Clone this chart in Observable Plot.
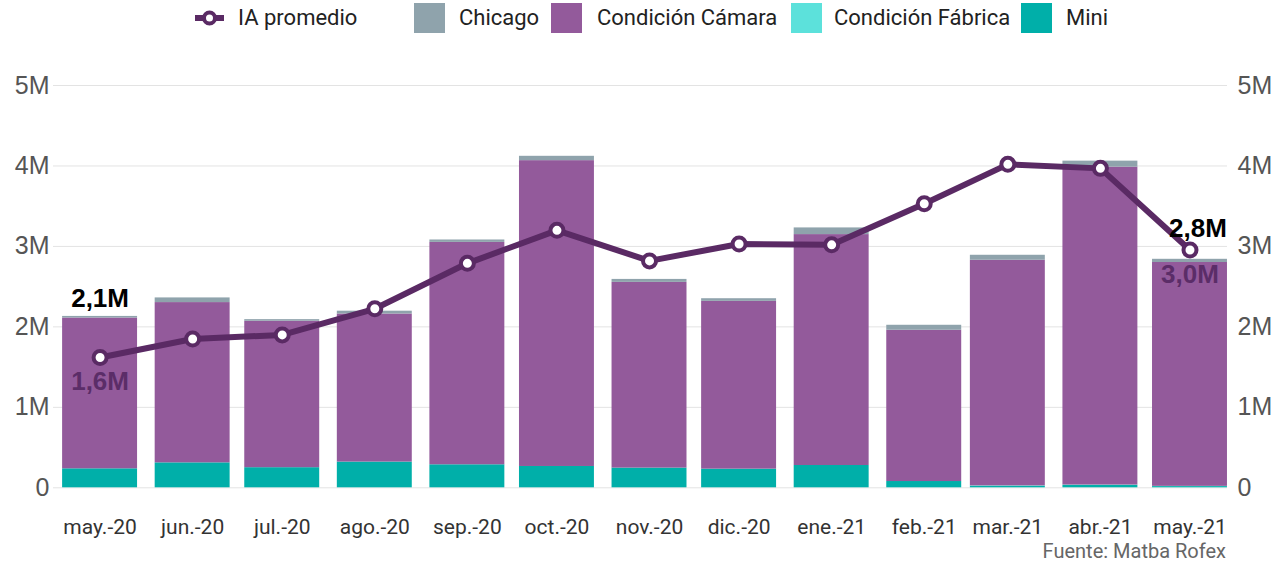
<!DOCTYPE html>
<html><head><meta charset="utf-8">
<script src="https://cdn.jsdelivr.net/npm/d3@7"></script>
<script src="https://cdn.jsdelivr.net/npm/@observablehq/plot@0.6"></script>
<style>
body{margin:0;background:#fff;}
#wrap{position:relative;width:1280px;height:563px;overflow:hidden;font-family:Roboto,sans-serif;}
#legend{position:relative;height:40px;}
.lt{position:absolute;top:0;height:36px;line-height:36px;font-size:22px;color:#222;white-space:nowrap;}
.sw{position:absolute;top:3px;width:31px;height:30px;}
#chart{position:absolute;top:40px;left:0;}
#foot{position:absolute;right:54px;top:539px;font-size:20px;color:#666;font-family:Roboto,sans-serif;}
</style></head>
<body><div id="wrap"><div id="legend"></div><div id="chart"></div><div id="foot">Fuente: Matba Rofex</div></div>
<script>
// ---- data (values in millions) ----
const months = ["may.-20","jun.-20","jul.-20","ago.-20","sep.-20","oct.-20","nov.-20","dic.-20","ene.-21","feb.-21","mar.-21","abr.-21","may.-21"];
const dates = ["2020-05-01","2020-06-01","2020-07-01","2020-08-01","2020-09-01","2020-10-01","2020-11-01","2020-12-01","2021-01-01","2021-02-01","2021-03-01","2021-04-01","2021-05-01"];
const mini    = [0.236,0.31,0.25,0.32,0.286,0.265,0.245,0.232,0.277,0.078,0.02,0.03,0.015];
const fabrica = [0,0,0,0,0,0,0,0,0,0,0.004,0.004,0.003];
const camara  = [1.874,1.992,1.82,1.84,2.764,3.801,2.308,2.085,2.87,1.88,2.804,3.951,2.782];
const chicago = [0.02,0.058,0.02,0.035,0.03,0.054,0.037,0.033,0.083,0.062,0.062,0.075,0.04];
const iaPromedio = [1.62,1.85,1.90,2.225,2.79,3.20,2.82,3.03,3.02,3.53,4.02,3.97,2.955];
const seriesNames = ["Mini","Condición Fábrica","Condición Cámara","Chicago"];
const seriesColors = ["#00afa9","#5ce1db","#935a9b","#8fa3ac"];
const legendOrder = ["Chicago","Condición Cámara","Condición Fábrica","Mini"];
const lineName = "IA promedio";
const lineColor = "#5a2a64";
const yTicks = [0,1,2,3,4,5];

// ---- tables ----
const seriesValues = [mini, fabrica, camara, chicago];
const halfBar = 12.55 * 864e5;
const rows = [];
const points = dates.map((s, i) => {
  const date = new Date(s);
  let acc = 0;
  seriesValues.forEach((arr, k) => {
    rows.push({date, series: seriesNames[k], x1: new Date(+date - halfBar), x2: new Date(+date + halfBar), y1: acc, y2: acc + arr[i]});
    acc += arr[i];
  });
  return {date, total: acc, ia: iaPromedio[i], label: months[i]};
});
const fmt = v => v.toFixed(1).replace(".", ",") + "M";
const labelOf = new Map(points.map(p => [+p.date, p.label]));
const first = points[0], last = points[points.length - 1];

// ---- legend ----
const legend = document.getElementById("legend");
const legendPos = {icon: 195, text: 238, sw: [414, 551, 791, 1021], tx: [459, 597, 834, 1066]};
legend.innerHTML =
  `<svg style="position:absolute;left:${legendPos.icon}px;top:9px" width="29" height="18"><line x1="0" x2="29" y1="9" y2="9" stroke="${lineColor}" stroke-width="6"/><circle cx="14.5" cy="9" r="5.5" fill="#fff" stroke="${lineColor}" stroke-width="4"/></svg>` +
  `<div class="lt" style="left:${legendPos.text}px">${lineName}</div>` +
  legendOrder.map((n, i) => `<div class="sw" style="left:${legendPos.sw[i]}px;background:${seriesColors[seriesNames.indexOf(n)]}"></div><div class="lt" style="left:${legendPos.tx[i]}px">${n}</div>`).join("");

// ---- chart ----
const x0 = new Date(+first.date - 15.6 * 864e5), x1 = new Date(+last.date + 12.56 * 864e5);
const tickFont = "'Liberation Sans', Arial, sans-serif";
const chart = Plot.plot({
  width: 1280, height: 500,
  marginLeft: 53, marginRight: 53, marginTop: 45, marginBottom: 52.7,
  style: {fontFamily: "Roboto, sans-serif", color: "#555", background: "transparent"},
  x: {type: "utc", domain: [x0, x1], label: null},
  y: {domain: [0, 5], label: null},
  color: {domain: seriesNames, range: seriesColors},
  marks: [
    Plot.gridY(yTicks, {stroke: "#e3e3e3", strokeOpacity: 1, strokeWidth: 1}),
    Plot.rectY(rows, {x1: "x1", x2: "x2", y1: "y1", y2: "y2", fill: "series"}),
    Plot.line(points, {x: "date", y: "ia", stroke: lineColor, strokeWidth: 6}),
    Plot.dot(points, {x: "date", y: "ia", r: 6.5, fill: "#fff", stroke: lineColor, strokeWidth: 4}),
    Plot.text([first], {x: "date", y: "total", text: d => fmt(d.total), lineAnchor: "bottom", dy: -9, fontSize: 26, fontWeight: "bold", fill: "#000", fontFamily: tickFont}),
    Plot.text([last], {x: "date", y: "total", text: d => fmt(d.total), lineAnchor: "bottom", dy: -22, dx: 8, fontSize: 26, fontWeight: "bold", fill: "#000", fontFamily: tickFont}),
    Plot.text([first, last], {x: "date", y: "ia", text: d => fmt(d.ia), lineAnchor: "top", dy: 14, fontSize: 26, fontWeight: "bold", fill: "#5b2d68", fontFamily: tickFont}),
    Plot.axisY(yTicks, {anchor: "left", tickSize: 0, tickPadding: 4, tickFormat: d => d === 0 ? "0" : d + "M", fontSize: 25, fill: "#555", fontFamily: tickFont}),
    Plot.axisY(yTicks, {anchor: "right", tickSize: 0, tickPadding: 10, tickFormat: d => d === 0 ? "0" : d + "M", fontSize: 25, fill: "#555", fontFamily: tickFont}),
    Plot.axisX(points.map(p => p.date), {tickSize: 0, tickPadding: 31, tickFormat: d => labelOf.get(+d), fontSize: 21, fill: "#333"})
  ]
});
document.getElementById("chart").appendChild(chart);
</script>
</body></html>
